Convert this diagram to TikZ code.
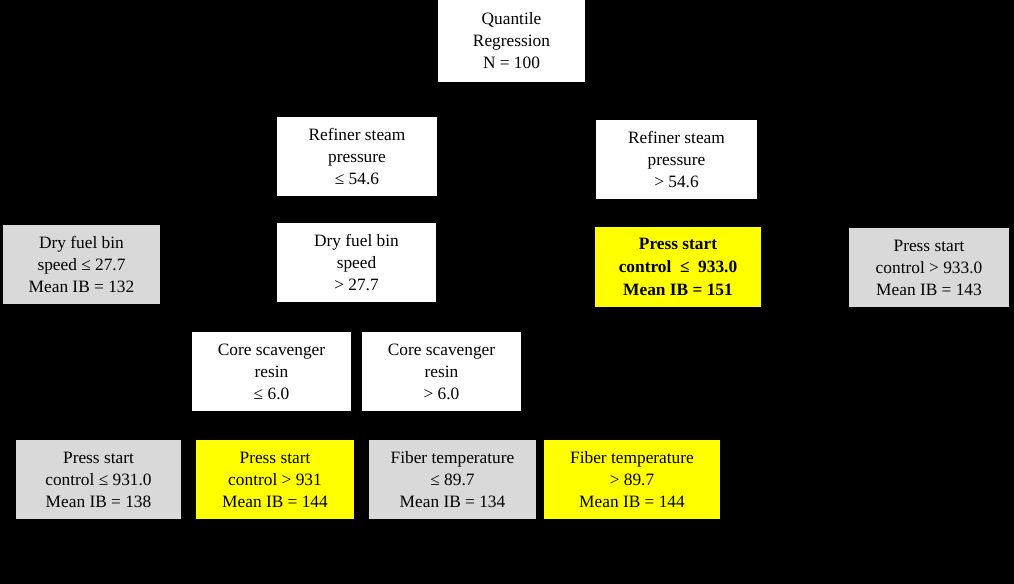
\documentclass[tikz,border=0pt]{standalone}
\usepackage{fontspec}
\setmainfont{Liberation Serif}
\usetikzlibrary{positioning}
\definecolor{leafgray}{HTML}{D9D9D9}
\definecolor{hotyellow}{HTML}{FFFF00}

\begin{document}
\begin{tikzpicture}[x=0.75pt,y=-0.75pt,
  font=\fontsize{13}{16.5}\selectfont,
  box/.style={fill=white,align=center,inner sep=2pt,minimum height=59.25pt},
  leaf/.style={box,fill=leafgray},
  hot/.style={box,fill=hotyellow}]
  \fill[black] (0,0) rectangle (1014,584);
  \useasboundingbox (0,0) rectangle (1014,584);
  % split nodes
  \node[box,minimum width=110pt,minimum height=61.5pt] (root) at (511.5,41) {Quantile\\Regression\\N = 100};
  \node[box,minimum width=120pt] (rsLow) at (357,156.5) {Refiner steam\\pressure\\≤ 54.6};
  \node[box,minimum width=121pt] (rsHigh) at (676.5,159.5) {Refiner steam\\pressure\\> 54.6};
  \node[leaf,minimum width=118pt] (dfLow) at (81.5,264.5) {Dry fuel bin\\speed ≤ 27.7\\Mean IB = 132};
  \node[box,minimum width=119pt] (dfHigh) at (356.5,263) {Dry fuel bin\\speed\\> 27.7};
  \node[hot,minimum width=124.5pt,minimum height=60pt,font=\fontsize{13}{17.5}\selectfont\bfseries] (psLow) at (678,267) {Press start\\control \ ≤ \ 933.0\\Mean IB = 151};
  \node[leaf,minimum width=120pt] (psHigh) at (929,267.5) {Press start\\control > 933.0\\Mean IB = 143};
  \node[box,minimum width=119pt] (csLow) at (271.5,371.5) {Core scavenger\\resin\\≤ 6.0};
  \node[box,minimum width=119pt] (csHigh) at (441.5,372) {Core scavenger\\resin\\> 6.0};
  % bottom leaves
  \node[leaf,minimum width=124pt] (pLow) at (98.5,479.5) {Press start\\control ≤ 931.0\\Mean IB = 138};
  \node[hot,minimum width=118.5pt] (pHigh) at (275,479.5) {Press start\\control > 931\\Mean IB = 144};
  \node[leaf,minimum width=125pt] (ftLow) at (452.5,479.5) {Fiber temperature\\≤ 89.7\\Mean IB = 134};
  \node[hot,minimum width=132pt] (ftHigh) at (632,479.5) {Fiber temperature\\> 89.7\\Mean IB = 144};
\end{tikzpicture}
\end{document}
